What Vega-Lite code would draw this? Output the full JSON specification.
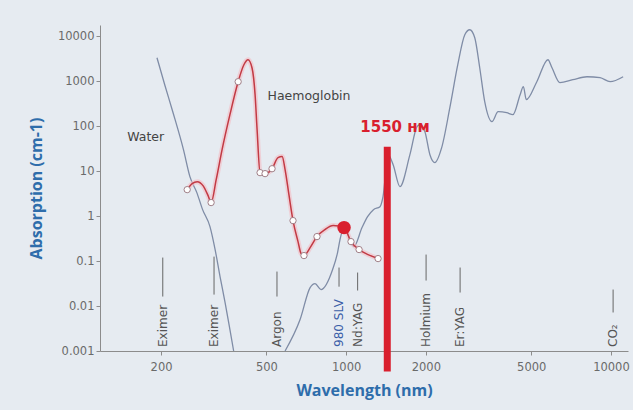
{
  "$schema": "https://vega.github.io/schema/vega-lite/v6.json",
  "autosize": "none",
  "padding": {"left": 100, "top": 25, "right": 5, "bottom": 59},
  "width": 528,
  "height": 326,
  "background": "#e6ebf1",
  "config": {
    "view": {"stroke": null},
    "axis": {
      "grid": false,
      "domainColor": "#8c8c8c",
      "tickColor": "#8c8c8c",
      "tickSize": 4,
      "labelColor": "#6a6a6a",
      "labelFont": "DejaVu Sans",
      "labelFontSize": 11.5,
      "titleFont": "Open Sans",
      "titleFontWeight": "bold",
      "titleFontSize": 16,
      "titleColor": "#2e6dab"
    }
  },
  "datasets": {
    "water": [
      {"seg": 1, "wl": 193, "abs": 3365}, {"seg": 1, "wl": 207, "abs": 802}, {"seg": 1, "wl": 222, "abs": 201},
      {"seg": 1, "wl": 243, "abs": 30.3}, {"seg": 1, "wl": 257, "abs": 7.6}, {"seg": 1, "wl": 273, "abs": 3.35},
      {"seg": 1, "wl": 287, "abs": 1.4}, {"seg": 1, "wl": 306, "abs": 0.587}, {"seg": 1, "wl": 320, "abs": 0.181},
      {"seg": 1, "wl": 334, "abs": 0.0454}, {"seg": 1, "wl": 349, "abs": 0.012}, {"seg": 1, "wl": 364, "abs": 0.003},
      {"seg": 1, "wl": 376, "abs": 0.001},
      {"seg": 2, "wl": 588, "abs": 0.001}, {"seg": 2, "wl": 670, "abs": 0.005}, {"seg": 2, "wl": 731, "abs": 0.0258},
      {"seg": 2, "wl": 763, "abs": 0.0316}, {"seg": 2, "wl": 804, "abs": 0.0233}, {"seg": 2, "wl": 889, "abs": 0.065},
      {"seg": 2, "wl": 928, "abs": 0.155}, {"seg": 2, "wl": 948, "abs": 0.302}, {"seg": 2, "wl": 982, "abs": 0.558},
      {"seg": 2, "wl": 1070, "abs": 0.211}, {"seg": 2, "wl": 1148, "abs": 0.558}, {"seg": 2, "wl": 1205, "abs": 0.98},
      {"seg": 2, "wl": 1268, "abs": 1.4}, {"seg": 2, "wl": 1342, "abs": 1.63}, {"seg": 2, "wl": 1378, "abs": 2.73},
      {"seg": 2, "wl": 1440, "abs": 23.4}, {"seg": 2, "wl": 1505, "abs": 14}, {"seg": 2, "wl": 1596, "abs": 4.55},
      {"seg": 2, "wl": 1741, "abs": 23.4}, {"seg": 2, "wl": 1852, "abs": 98}, {"seg": 2, "wl": 1899, "abs": 109},
      {"seg": 2, "wl": 1984, "abs": 76}, {"seg": 2, "wl": 2072, "abs": 23.4}, {"seg": 2, "wl": 2163, "abs": 15.6},
      {"seg": 2, "wl": 2295, "abs": 33.5}, {"seg": 2, "wl": 2464, "abs": 260}, {"seg": 2, "wl": 2640, "abs": 2350},
      {"seg": 2, "wl": 2806, "abs": 10900}, {"seg": 2, "wl": 2930, "abs": 14100}, {"seg": 2, "wl": 3060, "abs": 9360},
      {"seg": 2, "wl": 3195, "abs": 2015}, {"seg": 2, "wl": 3337, "abs": 353}, {"seg": 2, "wl": 3553, "abs": 127},
      {"seg": 2, "wl": 3750, "abs": 212}, {"seg": 2, "wl": 4040, "abs": 201}, {"seg": 2, "wl": 4265, "abs": 182},
      {"seg": 2, "wl": 4540, "abs": 506}, {"seg": 2, "wl": 4670, "abs": 762}, {"seg": 2, "wl": 4790, "abs": 392},
      {"seg": 2, "wl": 5250, "abs": 985}, {"seg": 2, "wl": 5782, "abs": 3035}, {"seg": 2, "wl": 5990, "abs": 2015},
      {"seg": 2, "wl": 6418, "abs": 935}, {"seg": 2, "wl": 7180, "abs": 1090}, {"seg": 2, "wl": 8120, "abs": 1270},
      {"seg": 2, "wl": 9098, "abs": 1210}, {"seg": 2, "wl": 9930, "abs": 985}, {"seg": 2, "wl": 11120, "abs": 1270}
    ],
    "hb": [
      {"wl": 251, "abs": 3.9}, {"wl": 262, "abs": 5.31}, {"wl": 274, "abs": 5.88}, {"wl": 288, "abs": 4.79},
      {"wl": 301, "abs": 2.87}, {"wl": 309, "abs": 2.01}, {"wl": 323, "abs": 6.51}, {"wl": 340, "abs": 30.3},
      {"wl": 364, "abs": 182}, {"wl": 391, "abs": 985}, {"wl": 411, "abs": 2350}, {"wl": 426, "abs": 3035},
      {"wl": 441, "abs": 2015}, {"wl": 453, "abs": 506}, {"wl": 461, "abs": 84}, {"wl": 473, "abs": 9.32},
      {"wl": 494, "abs": 8.86}, {"wl": 525, "abs": 11.4}, {"wl": 553, "abs": 20.1}, {"wl": 573, "abs": 21.2},
      {"wl": 588, "abs": 10.9}, {"wl": 608, "abs": 3.02}, {"wl": 630, "abs": 0.798}, {"wl": 658, "abs": 0.272},
      {"wl": 676, "abs": 0.147}, {"wl": 693, "abs": 0.133}, {"wl": 731, "abs": 0.2}, {"wl": 776, "abs": 0.352},
      {"wl": 832, "abs": 0.504}, {"wl": 893, "abs": 0.618}, {"wl": 982, "abs": 0.558}, {"wl": 1043, "abs": 0.272},
      {"wl": 1119, "abs": 0.181}, {"wl": 1210, "abs": 0.14}, {"wl": 1320, "abs": 0.114}
    ],
    "markers": [
      {"wl": 251, "abs": 3.9}, {"wl": 309, "abs": 2.01}, {"wl": 391, "abs": 985}, {"wl": 473, "abs": 9.32},
      {"wl": 494, "abs": 8.86}, {"wl": 525, "abs": 11.4}, {"wl": 630, "abs": 0.798}, {"wl": 693, "abs": 0.133},
      {"wl": 776, "abs": 0.352}, {"wl": 1043, "abs": 0.272}, {"wl": 1119, "abs": 0.181}, {"wl": 1320, "abs": 0.114}
    ],
    "lasers": [
      {"name": "Eximer", "wl": 203, "abs": 0.12, "abs2": 0.0163, "hl": false},
      {"name": "Eximer", "wl": 317, "abs": 0.126, "abs2": 0.018, "hl": false},
      {"name": "Argon", "wl": 548, "abs": 0.0586, "abs2": 0.0163, "hl": false},
      {"name": "980 SLV", "wl": 940, "abs": 0.072, "abs2": 0.027, "hl": true},
      {"name": "Nd:YAG", "wl": 1105, "abs": 0.0557, "abs2": 0.0222, "hl": false},
      {"name": "Holmium", "wl": 2004, "abs": 0.14, "abs2": 0.037, "hl": false},
      {"name": "Er:YAG", "wl": 2694, "abs": 0.072, "abs2": 0.02, "hl": false},
      {"name": "CO₂", "wl": 10190, "abs": 0.0233, "abs2": 0.0072, "hl": false}
    ],
    "notes": [
      {"label": "Water", "wl": 175, "abs": 59},
      {"label": "Haemoglobin", "wl": 724, "abs": 481}
    ],
    "bar": [{"label": "1550 нм", "wl": 1430, "abs": 35.3, "abs2": 0.00035, "lx": 1530, "ly": 98}],
    "spot": [{"wl": 982, "abs": 0.558}]
  },
  "encoding": {
    "x": {
      "field": "wl", "type": "quantitative", "title": "Wavelength (nm)",
      "scale": {"type": "log", "domain": [117.6, 11600], "nice": false},
      "axis": {"values": [200, 500, 1000, 2000, 5000, 10000], "format": "d", "labelPadding": 6, "titlePadding": 10}
    },
    "y": {
      "field": "abs", "type": "quantitative", "title": "Absorption (cm-1)",
      "scale": {"type": "log", "domain": [0.001, 18000], "nice": false},
      "axis": {"values": [0.001, 0.01, 0.1, 1, 10, 100, 1000, 10000], "format": "~g", "labelPadding": 2, "titlePadding": 13}
    }
  },
  "layer": [
    {
      "data": {"name": "water"},
      "mark": {"type": "line", "interpolate": "monotone", "color": "#7f8ca6", "strokeWidth": 1.3},
      "encoding": {"detail": {"field": "seg"}}
    },
    {
      "data": {"name": "hb"},
      "mark": {"type": "line", "interpolate": "monotone", "color": "#f3bcc4", "strokeWidth": 5, "opacity": 0.6},
      "encoding": {}
    },
    {
      "data": {"name": "hb"},
      "mark": {"type": "line", "interpolate": "monotone", "color": "#c23a44", "strokeWidth": 1.5},
      "encoding": {}
    },
    {
      "data": {"name": "markers"},
      "mark": {"type": "point", "filled": true, "fill": "white", "stroke": "#a08088", "strokeWidth": 1, "size": 40, "opacity": 1},
      "encoding": {}
    },
    {
      "data": {"name": "spot"},
      "mark": {"type": "point", "filled": true, "color": "#d91f2e", "size": 180, "opacity": 1},
      "encoding": {}
    },
    {
      "data": {"name": "lasers"},
      "mark": {"type": "rule", "color": "#666", "strokeWidth": 1},
      "encoding": {"y2": {"field": "abs2"}}
    },
    {
      "data": {"name": "lasers"},
      "mark": {"type": "text", "angle": 270, "align": "left", "baseline": "middle", "font": "DejaVu Sans", "fontSize": 12},
      "encoding": {
        "y": {"datum": 0.00123, "type": "quantitative"},
        "text": {"field": "name"},
        "color": {"field": "hl", "type": "nominal", "scale": {"domain": [false, true], "range": ["#555555", "#3b5ea8"]}, "legend": null}
      }
    },
    {
      "data": {"name": "bar"},
      "mark": {"type": "rule", "color": "#d91f2e", "strokeWidth": 7},
      "encoding": {"y2": {"field": "abs2"}}
    },
    {
      "data": {"name": "bar"},
      "mark": {"type": "text", "font": "DejaVu Sans", "fontWeight": "bold", "fontSize": 15, "color": "#d91f2e", "align": "center", "baseline": "middle"},
      "encoding": {"x": {"field": "lx", "type": "quantitative"}, "y": {"field": "ly", "type": "quantitative"}, "text": {"field": "label"}}
    },
    {
      "data": {"name": "notes"},
      "mark": {"type": "text", "font": "DejaVu Sans", "fontSize": 12.5, "color": "#444", "align": "center", "baseline": "middle"},
      "encoding": {"text": {"field": "label"}}
    }
  ]
}
